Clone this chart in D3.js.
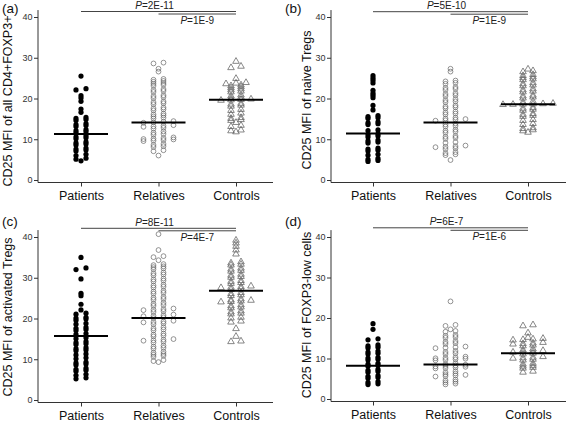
<!DOCTYPE html>
<html><head><meta charset="utf-8">
<script src="https://cdn.jsdelivr.net/npm/d3@7"></script>
<style>
html,body{margin:0;padding:0;background:#fff;}
svg{display:block;font-family:"Liberation Sans",Arial,Helvetica,sans-serif;}
</style></head>
<body>
<svg id="chart" width="567" height="422"></svg>
<script>
// ---------------- data ----------------
const categories = ["Patients", "Relatives", "Controls"];
const panelLetters = ["(a)", "(b)", "(c)", "(d)"];
const yLabels = ["CD25 MFI of all CD4+FOXP3+", "CD25 MFI of naive Tregs", "CD25 MFI of activated Tregs", "CD25 MFI of FOXP3-low cells"];
const yTicks = [0, 10, 20, 30, 40];
const pPatientsVsControls = ["2E-11", "5E-10", "8E-11", "6E-7"];
const pRelativesVsControls = ["1E-9", "1E-9", "4E-7", "1E-6"];

const aPatients = [25.5, 22.1, 22.4, 20.7, 20.1, 19.3, 17.4, 16.6, 15.1, 15.35, 14.6, 14.85, 13.6, 13.85,
  13.1, 13.35, 12.1, 12.35, 11.6, 11.85, 10.6, 10.85, 10.1, 10.35, 9.1, 9.35, 8.6, 8.85, 7.6, 7.85,
  7.1, 7.35, 6.0, 6.3, 5.1, 5.35, 4.7];
const aRelatives = [28.6, 28.8, 27.3, 26.6, 24.6, 24.8, 24.1, 24.3, 23.6, 23.8, 23.1, 23.35, 22.1, 22.3,
  21.6, 21.85, 20.6, 20.8, 20.1, 20.35, 19.1, 19.3, 18.6, 18.85, 17.6, 17.8, 17.1, 17.35, 16.1, 16.3,
  15.6, 15.85, 15.1, 15.3, 14.05, 14.15, 14.3, 14.45, 13.05, 13.15, 13.3, 13.45, 12.6, 12.8, 11.6, 11.9,
  11.1, 11.3, 10.05, 10.15, 10.3, 10.45, 9.55, 9.65, 9.8, 9.95, 8.6, 8.85, 8.1, 8.3, 7.05, 7.3, 6.0];
const aControls = [29.1, 27.55, 27.9, 24.9, 23.6, 23.75, 23.9, 23.1, 23.3, 22.6, 22.85, 22.1, 22.35,
  21.6, 21.8, 20.6, 20.85, 20.1, 20.3, 19.55, 19.65, 19.75, 19.85, 18.6, 18.8, 18.1, 18.35, 17.05, 17.3,
  16.1, 16.4, 15.1, 15.3, 14.6, 14.8, 14.1, 13.1, 13.4, 12.05, 12.25, 11.8];
const aMedians = [11.3, 14.1, 19.7];

const bPatients = [25.6, 25.0, 24.4, 23.8, 22.0, 21.3, 20.8, 20.2, 18.3, 17.2, 15.55, 15.8, 15.1, 15.3,
  14.05, 14.3, 13.6, 13.8, 12.1, 12.3, 11.1, 11.3, 10.55, 10.8, 9.6, 9.8, 9.05, 9.3, 7.6, 7.8,
  7.1, 7.3, 6.1, 6.3, 5.05, 5.3, 4.55, 4.8];
const bRelatives = [27.3, 26.6, 24.2, 24.4, 23.6, 23.85, 22.6, 22.8, 22.1, 22.35, 21.1, 21.3, 20.6, 20.8,
  19.6, 19.85, 19.1, 19.3, 18.05, 18.3, 17.6, 17.85, 16.6, 16.8, 16.1, 16.3, 15.1, 15.3,
  14.55, 14.65, 14.8, 14.95, 13.6, 13.85, 13.1, 13.3, 12.1, 12.35, 11.6, 11.85, 10.6, 10.8, 10.1, 10.35,
  9.1, 9.3, 8.05, 8.15, 8.3, 8.45, 7.6, 7.8, 6.6, 6.85, 6.1, 6.3, 4.9];
const bControls = [27.2, 26.55, 26.8, 25.6, 25.85, 25.1, 25.3, 24.6, 24.8, 23.6, 23.85, 23.1, 23.3,
  22.1, 22.35, 21.6, 21.8, 20.6, 20.8, 20.1, 20.35, 19.1, 19.3, 18.5, 18.55, 18.6, 18.65, 18.7, 18.8,
  17.6, 17.8, 17.1, 17.35, 16.1, 16.3, 15.6, 15.85, 14.6, 14.8, 13.6, 13.85, 12.6, 12.8, 12.05, 12.3, 11.7];
const bMedians = [11.4, 14.1, 18.6];

const cPatients = [35.0, 32.0, 32.4, 29.7, 26.2, 25.6, 23.5, 22.1, 21.05, 21.3, 20.1, 20.3, 19.6, 19.85,
  18.6, 18.8, 17.6, 17.8, 17.05, 17.3, 16.1, 16.3, 15.05, 15.3, 14.1, 14.35, 13.6, 13.8, 12.6, 12.85,
  12.1, 12.3, 11.05, 11.3, 10.1, 10.35, 9.1, 9.3, 8.6, 8.85, 7.55, 7.8, 7.05, 7.3, 6.05, 6.3, 5.2, 5.45];
const cRelatives = [40.7, 36.8, 35.05, 35.3, 34.3, 33.1, 33.35, 32.6, 32.8, 32.1, 32.3, 31.1, 31.3,
  30.6, 30.8, 29.6, 29.8, 29.1, 29.3, 28.1, 28.3, 27.6, 27.8, 26.6, 26.8, 26.1, 26.3, 25.1, 25.3,
  24.6, 24.8, 23.6, 23.85, 23.1, 23.3, 22.05, 22.15, 22.3, 22.45, 21.6, 21.8, 20.55, 20.65, 20.8, 20.95,
  20.1, 20.3, 19.05, 19.15, 19.3, 19.45, 18.6, 18.8, 17.6, 17.85, 17.1, 17.3, 16.05, 16.3, 15.6, 15.8,
  14.55, 14.65, 14.8, 14.95, 14.1, 14.3, 13.1, 13.35, 12.6, 12.8, 11.6, 11.85, 11.1, 11.3, 10.6, 10.85,
  9.55, 9.8, 9.3];
const cControls = [39.2, 38.5, 37.7, 36.8, 35.8, 33.6, 33.9, 33.1, 33.3, 32.1, 32.35, 31.6, 31.8,
  30.6, 30.85, 30.1, 30.3, 29.1, 29.3, 28.6, 28.8, 27.55, 27.65, 27.8, 27.95, 27.1, 27.3, 26.1, 26.35,
  25.6, 25.8, 24.55, 24.8, 24.05, 24.15, 24.3, 24.45, 23.1, 23.35, 22.6, 22.8, 21.6, 21.85, 21.1, 21.3,
  20.1, 20.3, 19.1, 19.35, 17.5, 15.6, 14.3, 14.45];
const cMedians = [15.7, 20.1, 26.8];

const dPatients = [18.6, 17.2, 14.6, 14.85, 13.1, 13.35, 12.6, 12.8, 11.6, 11.85, 11.1, 11.3, 10.1, 10.3,
  9.6, 9.8, 8.6, 8.8, 8.1, 8.3, 7.1, 7.3, 6.6, 6.8, 5.6, 5.8, 5.1, 5.3, 4.1, 4.3, 3.55, 3.75];
const dRelatives = [24.1, 18.05, 18.3, 17.2, 16.6, 16.8, 15.6, 15.8, 15.1, 15.3, 14.1, 14.3, 13.6, 13.8,
  12.55, 12.65, 12.8, 12.95, 11.6, 11.85, 11.1, 11.3, 10.05, 10.15, 10.3, 10.45, 9.55, 9.65, 9.8, 9.95,
  8.6, 8.85, 8.05, 8.15, 8.3, 8.45, 7.55, 7.65, 7.8, 7.95, 6.6, 6.85, 6.1, 6.3, 5.55, 5.65, 5.8, 5.95,
  4.6, 4.8, 4.1, 4.3, 3.6, 3.8];
const dControls = [18.05, 18.3, 16.3, 15.2, 14.55, 14.65, 14.8, 14.95, 13.55, 13.65, 13.8, 13.95,
  13.1, 13.3, 12.1, 12.35, 11.55, 11.65, 11.8, 11.95, 11.1, 11.3, 10.05, 10.15, 10.3, 10.45, 9.6, 9.8,
  8.6, 8.8, 8.1, 8.3, 7.6, 7.8, 6.6, 6.85];
const dMedians = [8.2, 8.5, 11.3];

const panelData = [
  [aPatients, aRelatives, aControls],
  [bPatients, bRelatives, bControls],
  [cPatients, cRelatives, cControls],
  [dPatients, dRelatives, dControls]
];
const panelMedians = [aMedians, bMedians, cMedians, dMedians];

// ---------------- layout (positions) ----------------
const layouts = [
  {ax: 38,  c0: 81,  c2: 236, y0: 180, y40: 17,  xEnd: 273, lx: 2,   ly: 12.5, ylx: 12,  yly: 101, p1: 11.5},
  {ax: 331, c0: 373, c2: 528, y0: 180, y40: 17,  xEnd: 566, lx: 285, ly: 12.5, ylx: 311, yly: 100, p1: 11.7},
  {ax: 38,  c0: 81,  c2: 236, y0: 400, y40: 237, xEnd: 273, lx: 2,   ly: 226,  ylx: 12,  yly: 317, p1: 228.3},
  {ax: 331, c0: 373, c2: 528, y0: 399, y40: 237, xEnd: 566, lx: 285, ly: 226,  ylx: 311, yly: 315, p1: 227.8}
];
const BIN = 0.5, COL = 10, HALF = 27;
const axisColor = "#333";
const FONT = '"Liberation Sans",Arial,sans-serif';

function swarm(values) {
  const bins = d3.group(values, v => Math.floor(v / BIN + 1e-9));
  const out = [];
  for (const [, vs] of bins) {
    const s = vs.slice().sort(d3.ascending);
    s.forEach((v, i) => out.push({v, off: (i - (s.length - 1) / 2) * COL}));
  }
  return out;
}

const svg = d3.select("#chart");

layouts.forEach((L, pi) => {
  const g = svg.append("g");
  const y = d3.scaleLinear().domain([0, 40]).range([L.y0, L.y40]);
  const x = d3.scalePoint().domain(categories).range([L.c0, L.c2]);

  // axis lines
  g.append("line").attr("x1", L.ax).attr("x2", L.ax)
    .attr("y1", y(41.7)).attr("y2", L.y0 + 2.5)
    .attr("stroke", axisColor).attr("stroke-width", 1);
  g.append("line").attr("x1", L.ax).attr("x2", L.xEnd)
    .attr("y1", L.y0 + 2.5).attr("y2", L.y0 + 2.5)
    .attr("stroke", axisColor).attr("stroke-width", 1);

  const ya = d3.axisLeft(y).tickValues(yTicks).tickSize(4).tickPadding(1.5).tickSizeOuter(0);
  const yg = g.append("g").attr("transform", `translate(${L.ax},0)`).call(ya);
  yg.select(".domain").remove();
  yg.selectAll("line").attr("stroke", axisColor);
  yg.selectAll("text").attr("font-size", 9).attr("fill", "#333").attr("font-family", FONT);

  const xa = d3.axisBottom(x).tickSize(4).tickPadding(4.5).tickSizeOuter(0);
  const xg = g.append("g").attr("transform", `translate(0,${L.y0 + 2.5})`).call(xa);
  xg.select(".domain").remove();
  xg.selectAll("line").attr("stroke", axisColor);
  xg.selectAll("text").attr("font-size", 12.5).attr("fill", "#111").attr("font-family", FONT);

  // y label
  g.append("text").attr("transform", `translate(${L.ylx},${L.yly}) rotate(-90)`)
    .attr("text-anchor", "middle").attr("font-size", 12.5).attr("fill", "#111")
    .text(yLabels[pi]);

  // panel letter
  g.append("text").attr("x", L.lx).attr("y", L.ly).attr("font-size", 13.5).attr("fill", "#111")
    .text(panelLetters[pi]);

  // significance bars
  const cx = categories.map(c => x(c));
  g.append("line").attr("x1", cx[0]).attr("x2", cx[2]).attr("y1", L.p1).attr("y2", L.p1)
    .attr("stroke", "#444").attr("stroke-width", 1);
  g.append("line").attr("x1", cx[1]).attr("x2", cx[2]).attr("y1", L.p1 + 2.5).attr("y2", L.p1 + 2.5)
    .attr("stroke", "#444").attr("stroke-width", 1);
  const t1 = g.append("text").attr("x", (cx[0] + cx[2]) / 2 - 4).attr("y", L.p1 - 2.5)
    .attr("text-anchor", "middle").attr("font-size", 10).attr("fill", "#222");
  t1.append("tspan").attr("font-style", "italic").text("P");
  t1.append("tspan").text("=" + pPatientsVsControls[pi]);
  const t2 = g.append("text").attr("x", (cx[1] + cx[2]) / 2).attr("y", L.p1 + 12.5)
    .attr("text-anchor", "middle").attr("font-size", 10).attr("fill", "#222");
  t2.append("tspan").attr("font-style", "italic").text("P");
  t2.append("tspan").text("=" + pRelativesVsControls[pi]);

  // points
  const tri = d3.symbol().type(d3.symbolTriangle).size(19);
  panelData[pi].forEach((vals, gi) => {
    const pts = swarm(vals);
    const cxg = x(categories[gi]);
    const sel = g.append("g");
    if (gi === 0) {
      sel.selectAll("circle").data(pts).join("circle")
        .attr("cx", d => cxg + d.off).attr("cy", d => y(d.v)).attr("r", 2.6)
        .attr("fill", "#000");
    } else if (gi === 1) {
      sel.selectAll("circle").data(pts).join("circle")
        .attr("cx", d => cxg + d.off).attr("cy", d => y(d.v)).attr("r", 2.4)
        .attr("fill", "none").attr("stroke", "#666").attr("stroke-width", 0.7);
    } else {
      sel.selectAll("path").data(pts).join("path")
        .attr("d", tri)
        .attr("transform", d => `translate(${cxg + d.off},${y(d.v)})`)
        .attr("fill", "none").attr("stroke", "#555").attr("stroke-width", 0.7);
    }
  });

  // medians
  g.append("g").selectAll("line").data(panelMedians[pi]).join("line")
    .attr("x1", (d, i) => x(categories[i]) - HALF).attr("x2", (d, i) => x(categories[i]) + HALF)
    .attr("y1", d => y(d)).attr("y2", d => y(d))
    .attr("stroke", "#000").attr("stroke-width", 2);
});
</script>
</body></html>
